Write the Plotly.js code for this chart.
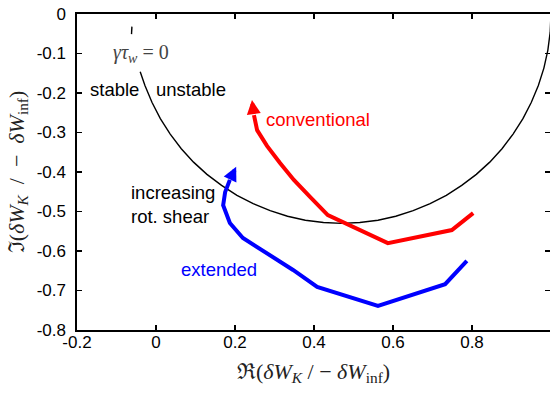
<!DOCTYPE html>
<html>
<head>
<meta charset="utf-8">
<script src="https://cdn.plot.ly/plotly-3.0.1.min.js"></script>
<style>html,body{margin:0;padding:0;background:#fff;}#chart{width:550px;height:393px;}</style>
</head>
<body>
<div id="chart"></div>
<script>
// Stability boundary (gamma*tau_w = 0)
const boundaryTopX = [-0.061, -0.062];
const boundaryTopY = [-0.032, -0.051];
const boundaryX = [-0.040, -0.028, -0.010, 0.011, 0.036, 0.064, 0.095, 0.129, 0.166, 0.205, 0.246, 0.289, 0.333, 0.378, 0.424, 0.470, 0.516, 0.562, 0.607, 0.651, 0.694, 0.735, 0.774, 0.811, 0.845, 0.876, 0.904, 0.929, 0.950, 0.968, 0.982, 0.992, 0.998, 1.000];
const boundaryY = [-0.146, -0.181, -0.224, -0.265, -0.304, -0.341, -0.375, -0.406, -0.434, -0.459, -0.480, -0.498, -0.512, -0.522, -0.528, -0.530, -0.528, -0.522, -0.512, -0.498, -0.480, -0.459, -0.434, -0.406, -0.375, -0.341, -0.304, -0.265, -0.224, -0.181, -0.137, -0.092, -0.046, 0.000];

// conventional (ordered along increasing rotation shear)
const convX = [0.803, 0.749, 0.587, 0.435, 0.390, 0.349, 0.314, 0.281, 0.256, 0.248, 0.243];
const convY = [-0.504, -0.547, -0.580, -0.509, -0.463, -0.420, -0.377, -0.334, -0.294, -0.256, -0.218];

// extended
const extX = [0.787, 0.732, 0.562, 0.408, 0.347, 0.281, 0.220, 0.187, 0.170, 0.175, 0.187, 0.203];
const extY = [-0.625, -0.684, -0.739, -0.691, -0.648, -0.605, -0.567, -0.529, -0.484, -0.451, -0.420, -0.387];

const xTickVals = [-0.2, 0, 0.2, 0.4, 0.6, 0.8];
const xTickText = ['-0.2', '0', '0.2', '0.4', '0.6', '0.8'];
const yTickVals = [0, -0.1, -0.2, -0.3, -0.4, -0.5, -0.6, -0.7, -0.8];
const yTickText = ['0', '-0.1', '-0.2', '-0.3', '-0.4', '-0.5', '-0.6', '-0.7', '-0.8'];

const RED = '#ff0000', BLUE = '#0000ff';
const SANS = 'Liberation Sans, Arial, sans-serif';
const SERIF = 'Liberation Serif, Times New Roman, serif';

const n1 = convX.length, n2 = extX.length;
const traces = [
  {x: boundaryTopX, y: boundaryTopY, mode: 'lines', line: {color: '#000', width: 1.4}, hoverinfo: 'skip'},
  {x: boundaryX, y: boundaryY, mode: 'lines', line: {color: '#000', width: 1.4}, hoverinfo: 'skip'},
  {x: convX.slice(0, n1 - 1), y: convY.slice(0, n1 - 1), mode: 'lines', line: {color: RED, width: 4}, hoverinfo: 'skip'},
  {x: extX.slice(0, n2 - 1), y: extY.slice(0, n2 - 1), mode: 'lines', line: {color: BLUE, width: 4}, hoverinfo: 'skip'}
];

function arrow(xs, ys, color) {
  const n = xs.length;
  return {x: xs[n - 1], y: ys[n - 1], ax: xs[n - 2], ay: ys[n - 2], xref: 'x', yref: 'y', axref: 'x', ayref: 'y',
    text: '', showarrow: true, arrowhead: 2, arrowsize: 0.7, arrowwidth: 4, arrowcolor: color, standoff: 0, startstandoff: 0};
}

const txt = (t, x, y, color, extra) => Object.assign({text: t, x: x, y: y, xref: 'x', yref: 'y', showarrow: false,
  font: {family: SANS, size: 18.5, color: color}}, extra || {});

const annotations = [
  arrow(convX, convY, RED),
  arrow(extX, extY, BLUE),
  txt('stable', -0.104, -0.192, '#000'),
  txt('unstable', 0.089, -0.192, '#000'),
  txt('conventional', 0.41, -0.268, RED),
  txt('extended', 0.159, -0.646, BLUE),
  txt('increasing<br>rot. shear', -0.068, -0.481, '#000', {xanchor: 'left', align: 'left'}),
  {text: '<i>γτ<sub>w</sub></i> = 0', x: -0.038, y: -0.099, xref: 'x', yref: 'y', showarrow: false,
   font: {family: SERIF, size: 20, color: '#444'}}
];

const axisCommon = {
  showline: true, linecolor: '#000', linewidth: 1.6, mirror: 'ticks',
  ticks: 'inside', ticklen: 5, tickwidth: 1.2, tickcolor: '#000',
  showgrid: false, zeroline: false, tickmode: 'array',
  tickfont: {family: SANS, size: 17, color: '#000'}
};

const layout = {
  width: 550, height: 393,
  margin: {l: 77, r: 0, t: 14, b: 63},
  paper_bgcolor: '#fff', plot_bgcolor: '#fff',
  showlegend: false,
  xaxis: Object.assign({}, axisCommon, {
    range: [-0.2, 0.9975], tickvals: xTickVals, ticktext: xTickText, ticklabelstandoff: -4,
    title: {text: 'ℜ(<i>δW<sub>K</sub></i> / − <i>δW</i><sub>inf</sub>)', font: {family: SERIF, size: 22, color: '#222'}, standoff: 12}
  }),
  yaxis: Object.assign({}, axisCommon, {
    range: [-0.8, 0], tickvals: yTickVals, ticktext: yTickText, ticklabelstandoff: 6,
    title: {text: 'ℑ(<i>δW<sub>K</sub></i>  /  −  <i>δW</i><sub>inf</sub>)', font: {family: SERIF, size: 22, color: '#222'}, standoff: 6}
  }),
  annotations: annotations
};

Plotly.newPlot('chart', traces, layout, {displayModeBar: false, staticPlot: true});
</script>
</body>
</html>
